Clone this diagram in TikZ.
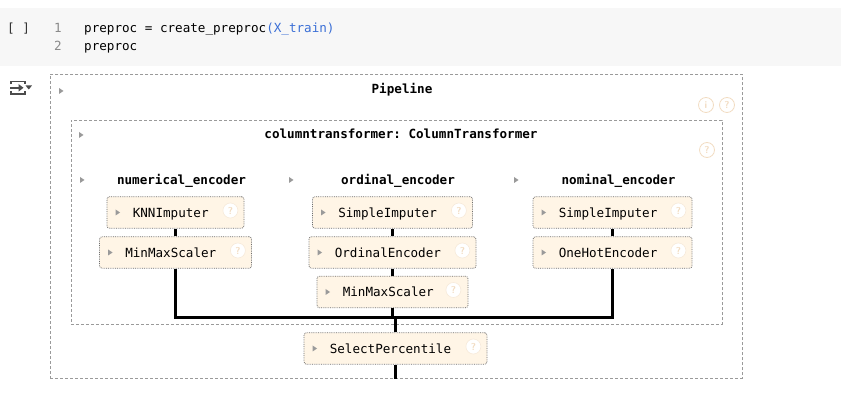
\documentclass[tikz,border=0pt]{standalone}
\usepackage{fontspec}
\setmonofont{DejaVu Sans Mono}
\usetikzlibrary{calc}
\definecolor{codebg}{HTML}{F7F7F7}
\definecolor{boxfill}{HTML}{FFF5E6}
\definecolor{boxline}{HTML}{6E6E6E}
\definecolor{dashcol}{HTML}{9A9A9A}
\definecolor{lineno}{HTML}{8A8A8A}
\definecolor{codeblue}{HTML}{3B6FD6}
\definecolor{helpcol}{HTML}{F2DCC2}
\definecolor{tricol}{HTML}{9A9A9A}
\tikzset{
  mono/.style={font=\fontsize{12.6}{14}\selectfont\ttfamily, inner sep=0pt, text height=9.2pt, text depth=0pt},
  monob/.style={mono, font=\fontsize{12.6}{14}\selectfont\ttfamily\bfseries},
  skbox/.style={draw=boxline, densely dotted, line width=0.8pt, fill=boxfill, rounded corners=2.5pt, minimum height=31.5pt, inner sep=0pt},
  dashbox/.style={draw=dashcol, dash pattern=on 3pt off 2pt, line width=0.7pt, inner sep=0pt},
  conn/.style={line width=2.2pt, black},
  helpin/.style={circle, draw=helpcol!60, fill=white, line width=0.6pt, minimum size=15pt, inner sep=0pt, text=helpcol, font=\fontsize{10}{10}\selectfont\sffamily\bfseries},
  helpout/.style={circle, draw=helpcol, line width=0.8pt, minimum size=15pt, inner sep=0pt, text=helpcol, font=\fontsize{10}{10}\selectfont\sffamily\bfseries},
}
\newcommand{\sktri}[1]{\fill[tricol] ($#1+(0,-3)$) -- ($#1+(0,3)$) -- ($#1+(4.5,0)$) -- cycle;}
\newcommand{\skb}[6]{% name, cx, cy, width, text, iconoffset
  \node[skbox, minimum width=#4pt] (#1) at (#2,#3) {};
  \sktri{($(#1.west)+(9,0)$)}
  \node[mono, anchor=west] (#1t) at ($(#1.west)+(26,0)$) {#5};
  \node[helpin] (#1h) at ($(#1.east)+(-#6,-2)$) {?};
}
\begin{document}
\begin{tikzpicture}[x=1pt, y=-1pt]
\useasboundingbox (0,0) rectangle (841,403);
\fill[white] (0,0) rectangle (841,403);
% code cell
\fill[codebg] (0,8) rectangle (841,66);
\node[mono, anchor=west, text=black!80] (brk) at (7,28) {[ ]};
\node[mono, anchor=west, text=lineno] (l1) at (54,28) {1};
\node[mono, anchor=west, text=lineno] (l2) at (54,46) {2};
\node[mono, anchor=west, text=black] (c1) at (84,28) {preproc = create\_preproc\textcolor{codeblue}{(X\_train)}};
\node[mono, anchor=west, text=black] (c2) at (84,46) {preproc};
% output icon
\draw[black!70, line width=1.6pt] (11,84.5) -- (11,81.5) -- (25,81.5) -- (25,84.5);
\draw[black!70, line width=1.6pt] (11,91) -- (11,94) -- (25,94) -- (25,91);
\draw[black!70, line width=1.6pt] (10,87.8) -- (20,87.8);
\fill[black!70] (23.5,87.8) -- (18.5,84) -- (18.5,91.6) -- cycle;
\fill[black!70] (25.5,85.5) -- (32,85.5) -- (28.75,89.5) -- cycle;
% pipeline box
\node[dashbox, minimum width=692pt, minimum height=304pt, anchor=north west] (pipe) at (50,74) {};
\sktri{(59,91)}
\node[monob] (pipet) at (402,89) {Pipeline};
\node[helpout] (pinfo) at (706,105) {i};
\node[helpout] (phelp) at (727,105) {?};
% column transformer box
\node[dashbox, minimum width=651pt, minimum height=204pt, anchor=north west] (ct) at (70.5,120) {};
\sktri{(79,135)}
\node[monob] (ctt) at (401,134) {columntransformer: ColumnTransformer};
\node[helpout] (cthelp) at (707,150) {?};
% headers
\sktri{(80,180)}
\sktri{(289,180)}
\sktri{(514,180)}
\node[monob] (hnum) at (181.5,180) {numerical\_encoder};
\node[monob] (hord) at (398,180) {ordinal\_encoder};
\node[monob] (hnom) at (618.5,180) {nominal\_encoder};
% boxes
\skb{knn}{175.5}{212.5}{137}{KNNImputer}{14}
\skb{mmsa}{175.5}{252.5}{152}{MinMaxScaler}{14}
\skb{sia}{392.5}{212.5}{160}{SimpleImputer}{14}
\skb{oe}{392.5}{252.5}{167}{OrdinalEncoder}{14}
\skb{mmsb}{392.5}{292}{151}{MinMaxScaler}{15}
\skb{sib}{612.5}{212.5}{159}{SimpleImputer}{14}
\skb{ohe}{612.5}{252.5}{159}{OneHotEncoder}{14}
\skb{sp}{395.5}{348.5}{183}{SelectPercentile}{14}
% connectors
\coordinate (mrg) at (395.5,317.5);
\draw[conn] (knn.south) -- (knn.south |- mmsa.north);
\draw[conn] (sia.south) -- (sia.south |- oe.north);
\draw[conn] (oe.south) -- (oe.south |- mmsb.north);
\draw[conn] (sib.south) -- (sib.south |- ohe.north);
\draw[conn] (mmsa.south) -- (mmsa.south |- mrg) -- (ohe.south |- mrg) -- (ohe.south);
\draw[conn] (mmsb.south) -- (mmsb.south |- mrg);
\draw[conn] (mrg) -- (sp.north);
\draw[conn] (sp.south) -- (sp.south |- pipe.south);
\end{tikzpicture}
\end{document}
